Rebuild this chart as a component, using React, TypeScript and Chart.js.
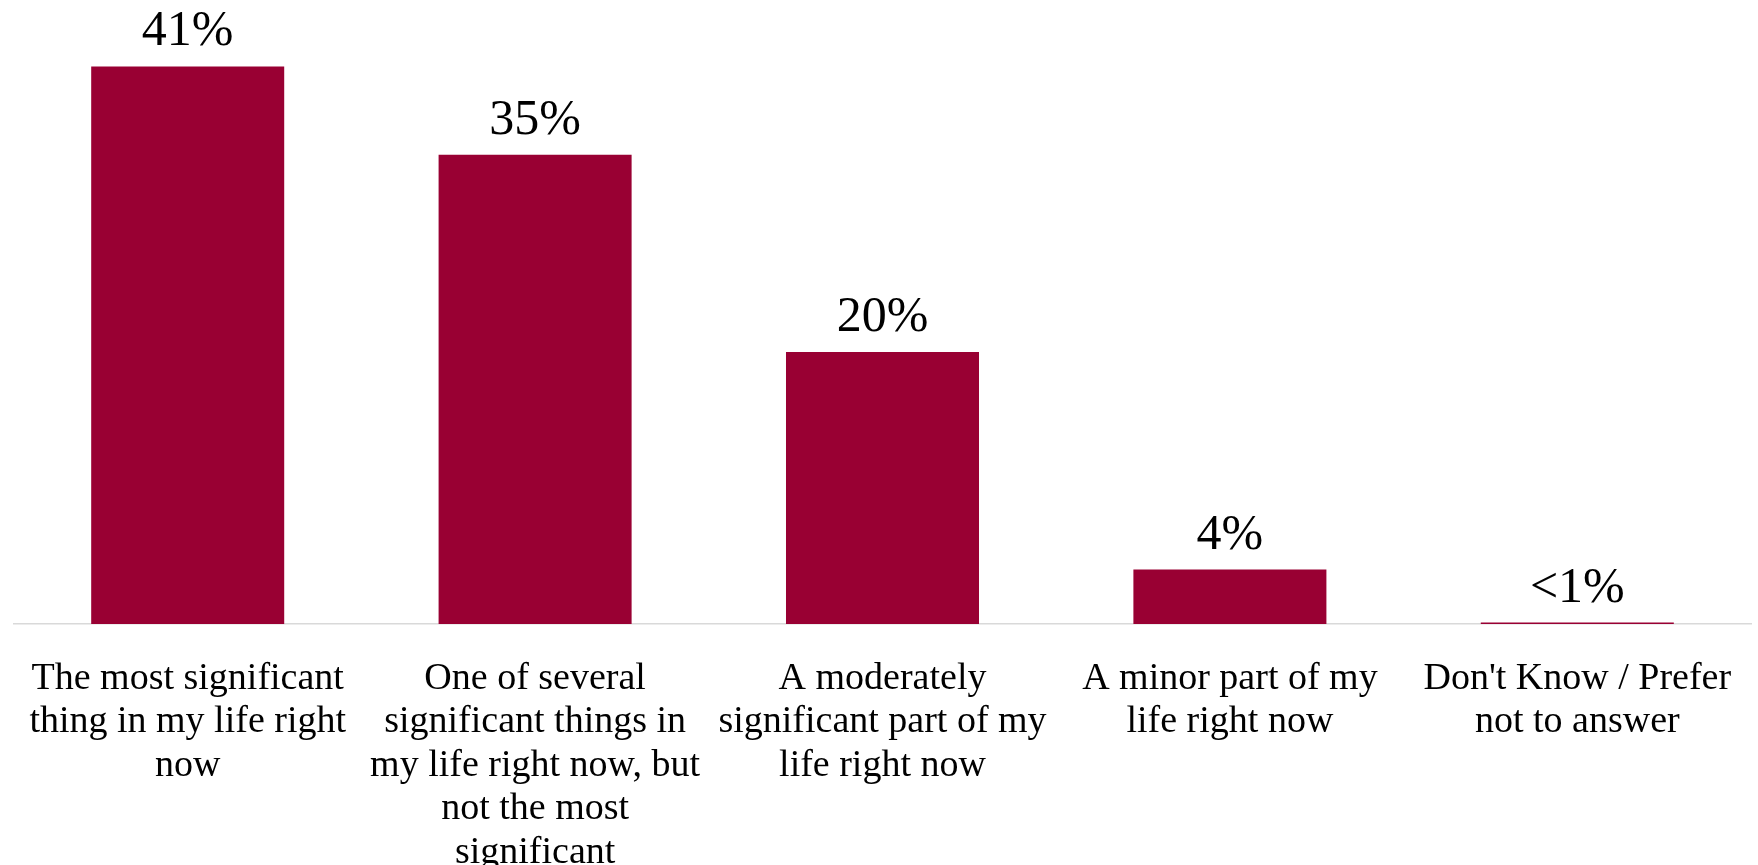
import React, { useEffect, useRef } from "react";
import { Chart, registerables } from "chart.js";

Chart.register(...registerables);

const categories: string[][] = [
  ["The most significant", "thing in my life right", "now"],
  ["One of several", "significant things in", "my life right now, but", "not the most", "significant"],
  ["A moderately", "significant part of my", "life right now"],
  ["A minor part of my", "life right now"],
  ["Don't Know / Prefer", "not to answer"],
];
const values: number[] = [41, 34.5, 20, 4, 0.11];
const valueLabels: string[] = ["41%", "35%", "20%", "4%", "<1%"];

const BAR_COLOR = "#990033";
const FONT = "'Liberation Serif', 'Times New Roman', serif";

const dataLabelPlugin = {
  id: "dataLabels",
  afterDatasetsDraw(chart: any) {
    const ctx = chart.ctx;
    const meta = chart.getDatasetMeta(0);
    ctx.save();
    ctx.font = `50px ${FONT}`;
    ctx.fillStyle = "#000000";
    ctx.textAlign = "center";
    ctx.textBaseline = "alphabetic";
    meta.data.forEach((bar: any, i: number) => {
      ctx.fillText(valueLabels[i], bar.x, bar.y - 21);
    });
    ctx.restore();
  },
};

export default function App() {
  const canvasRef = useRef<HTMLCanvasElement | null>(null);

  useEffect(() => {
    if (!canvasRef.current) return;
    const chart = new Chart(canvasRef.current, {
      type: "bar",
      data: {
        labels: categories,
        datasets: [
          {
            data: values,
            backgroundColor: BAR_COLOR,
            borderWidth: 0,
            barPercentage: 0.5556,
            categoryPercentage: 1,
          },
        ],
      },
      options: {
        responsive: false,
        animation: false,
        layout: { padding: { left: 14, right: 7, top: 12, bottom: 0 } },
        plugins: {
          legend: { display: false },
          tooltip: { enabled: false },
        },
        scales: {
          x: {
            grid: { display: false, drawTicks: false, tickLength: 0 },
            border: { display: true, color: "#d9d9d9", width: 1.5 },
            ticks: {
              color: "#000000",
              font: { family: FONT, size: 38, lineHeight: 1.145 },
              padding: 33,
              maxRotation: 0,
              minRotation: 0,
              autoSkip: false,
            },
            afterFit: (scale: any) => {
              scale.height = 241;
              scale.paddingLeft = 0;
              scale.paddingRight = 0;
            },
          },
          y: {
            display: false,
            min: 0,
            max: 45,
          },
        },
      },
      plugins: [dataLabelPlugin],
    });
    return () => chart.destroy();
  }, []);

  return (
    <div style={{ position: "absolute", left: 0, top: 0, width: 1758, height: 865, background: "#ffffff" }}>
      <canvas ref={canvasRef} width={1758} height={865} style={{ display: "block" }} />
    </div>
  );
}
